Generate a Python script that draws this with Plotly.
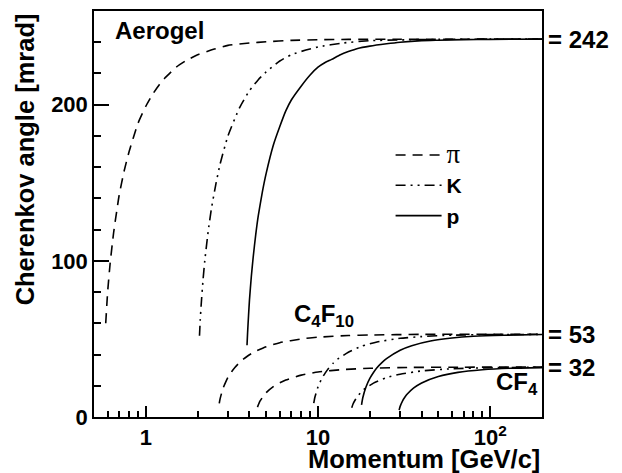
import plotly.graph_objects as go

# ---- data (momentum in GeV/c, angle in mrad) ----
aero_pi_p = [0.585, 0.6, 0.62, 0.65, 0.68, 0.7, 0.75, 0.8, 0.9, 1.0, 1.1, 1.2, 1.3, 1.5, 1.7, 2, 2.5, 3, 4, 5, 7, 10, 15, 30, 200]
aero_pi_t = [60, 80, 98, 118, 133, 142, 158, 170, 188, 199, 207, 213, 217.5, 224, 228, 232, 235.6, 238, 239.5, 240.3, 241.2, 241.6, 241.8, 241.9, 242]
aero_k_p = [2.05, 2.07, 2.1, 2.15, 2.2, 2.3, 2.4, 2.55, 2.7, 3, 3.5, 4, 4.5, 5, 6, 7, 8.5, 10, 14, 20, 30, 50, 100, 200]
aero_k_t = [52, 62, 73, 88, 100, 118.5, 133, 149, 162, 180, 198, 209, 216, 221, 228, 232, 235, 237, 239.5, 241, 241.5, 241.8, 242, 242]
aero_p_p = [3.87, 3.9, 3.95, 4.0, 4.1, 4.2, 4.35, 4.5, 4.75, 5, 5.5, 6, 6.5, 7, 8, 9, 10, 11, 12, 13.5, 15, 17, 20, 25, 30, 40, 50, 70, 100, 200]
aero_p_t = [46, 54, 65, 75, 90, 102, 117, 129, 144, 156, 174, 186, 196, 203, 212, 219, 224, 227, 229, 232, 234, 236, 237.5, 239, 240, 241, 241.3, 241.7, 241.8, 242]

c4_pi_p = [2.67, 2.7, 2.8, 2.9, 3.0, 3.15, 3.3, 3.5, 3.7, 4.2, 5, 6, 8, 10, 15, 20, 40, 100, 200]
c4_pi_t = [8.7, 11.6, 18.0, 22.0, 25.4, 29.0, 31.9, 34.8, 37.2, 41.3, 45.0, 47.6, 50.0, 51.1, 52.2, 52.5, 52.9, 53.0, 53.0]
c4_k_p = [9.45, 9.6, 10, 10.5, 11, 11.5, 12.2, 13, 15, 18, 22, 30, 40, 60, 100, 200]
c4_k_t = [8.9, 12.8, 19.3, 24.5, 28.1, 31.1, 34.3, 37.0, 41.5, 45.4, 48.0, 50.4, 51.5, 52.4, 52.8, 52.9]
c4_p_p = [17.9, 18.2, 19, 20, 21, 22, 23.5, 25, 30, 35, 45, 60, 80, 120, 200]
c4_p_t = [7.8, 12.3, 19.2, 24.7, 28.5, 31.5, 34.8, 37.4, 42.8, 45.7, 48.7, 50.6, 51.7, 52.4, 52.8]

cf4_pi_p = [4.45, 4.6, 4.8, 5, 5.5, 6, 6.5, 8, 10, 14, 20, 35, 70, 200]
cf4_pi_t = [6.3, 10.1, 13.2, 15.6, 19.5, 21.9, 23.7, 26.8, 28.8, 30.4, 31.2, 31.75, 31.9, 32.0]
cf4_k_p = [15.7, 16, 16.5, 17, 18.5, 21, 25, 30, 40, 60, 100, 200]
cf4_k_t = [5.9, 8.5, 11.2, 13.4, 17.7, 21.7, 25.2, 27.4, 29.5, 30.9, 31.6, 31.9]
cf4_p_p = [29.6, 30, 31, 32, 33, 36, 40, 50, 65, 90, 130, 200]
cf4_p_t = [4.4, 6.8, 10.4, 12.8, 14.7, 18.6, 21.8, 25.9, 28.6, 30.25, 31.2, 31.65]

saturation = [242, 53, 32]
x_tick_vals = [1, 10, 100]
x_tick_text = ["1", "10", "10<sup>2</sup>"]
x_minor_vals = [0.6, 0.7, 0.8, 0.9, 2, 3, 4, 5, 6, 7, 8, 9,
                20, 30, 40, 50, 60, 70, 80, 90, 200]
y_tick_vals = [0, 100, 200]

FONT = "Liberation Sans, Arial, Helvetica, sans-serif"
dash_pi = "10px,7px"
dash_k = "10px,5px,2px,5px,2px,5px"
LW = 1.6

fig = go.Figure()

def add(px, py, dash, name=None, show=False):
    fig.add_trace(go.Scatter(
        x=px, y=py, mode="lines",
        line=dict(color="black", width=LW, dash=dash, shape="spline", smoothing=0.5),
        name=name, showlegend=show, hoverinfo="skip"))

add(aero_pi_p, aero_pi_t, dash_pi,
    "<span style='font-family:Liberation Serif;font-weight:normal;font-size:27px'>π</span>", True)
add(aero_k_p, aero_k_t, dash_k, "K", True)
add(aero_p_p, aero_p_t, "solid", "p", True)
add(c4_pi_p, c4_pi_t, dash_pi)
add(c4_k_p, c4_k_t, dash_k)
add(c4_p_p, c4_p_t, "solid")
add(cf4_pi_p, cf4_pi_t, dash_pi)
add(cf4_k_p, cf4_k_t, dash_k)
add(cf4_p_p, cf4_p_t, "solid")

bold = dict(family=FONT, size=24, color="black", weight="bold")
tickf = dict(family=FONT, size=22, color="black", weight="bold")
big = dict(family=FONT, size=25.5, color="black", weight="bold")

annotations = [
    dict(text="Aerogel", x=0.042, y=0.952, xanchor="left", yanchor="middle", font=bold),
    dict(text="C<sub>4</sub>F<sub>10</sub>", x=0.443, y=0.25, xanchor="left", yanchor="middle", font=bold),
    dict(text="CF<sub>4</sub>", x=0.893, y=0.082, xanchor="left", yanchor="middle", font=bold),
    dict(text="Momentum [GeV/c]", x=1.0, y=-0.104, xanchor="right", yanchor="middle", font=big),
    dict(text="Cherenkov angle [mrad]", x=-0.155, y=0.998, xanchor="center", yanchor="top",
         textangle=-90, font=big),
]
anns = []
for a in annotations:
    d = dict(xref="paper", yref="paper", showarrow=False)
    d.update(a)
    anns.append(d)
for v in saturation:
    anns.append(dict(text="= %d" % v, xref="paper", yref="y", x=1.008, y=v,
                     xanchor="left", yanchor="middle", showarrow=False, font=bold))

fig.update_layout(
    width=622, height=473,
    margin=dict(l=94, r=80, t=9, b=56),
    paper_bgcolor="white", plot_bgcolor="white",
    font=bold,
    annotations=anns,
    showlegend=True,
    legend=dict(x=0.662, y=0.695, xanchor="left", yanchor="top",
                bgcolor="rgba(0,0,0,0)", font=dict(family=FONT, size=21, weight="bold"),
                itemwidth=46, tracegroupgap=0),
)
fig.update_xaxes(
    type="log", range=[-0.301, 2.301],
    tickmode="array", tickvals=x_tick_vals, ticktext=x_tick_text,
    ticks="inside", ticklen=11, tickwidth=1.5, tickcolor="black",
    minor=dict(tickmode="array", tickvals=x_minor_vals, ticks="inside", ticklen=6,
               tickwidth=1.5, tickcolor="black", showgrid=False),
    showgrid=False, zeroline=False,
    showline=True, linecolor="black", linewidth=1.5, mirror=True,
    tickfont=tickf, ticklabelstandoff=0,
)
fig.update_yaxes(
    range=[0, 260],
    tickmode="array", tickvals=y_tick_vals,
    ticks="inside", ticklen=15, tickwidth=1.5, tickcolor="black",
    minor=dict(tickmode="linear", tick0=0, dtick=20, ticks="inside", ticklen=7,
               tickwidth=1.5, tickcolor="black", showgrid=False),
    showgrid=False, zeroline=False,
    showline=True, linecolor="black", linewidth=1.5, mirror=True,
    tickfont=tickf, ticklabelstandoff=0,
)

fig.write_html("out.html", config={"displayModeBar": False},
               post_script="document.body.style.margin='0px';")
